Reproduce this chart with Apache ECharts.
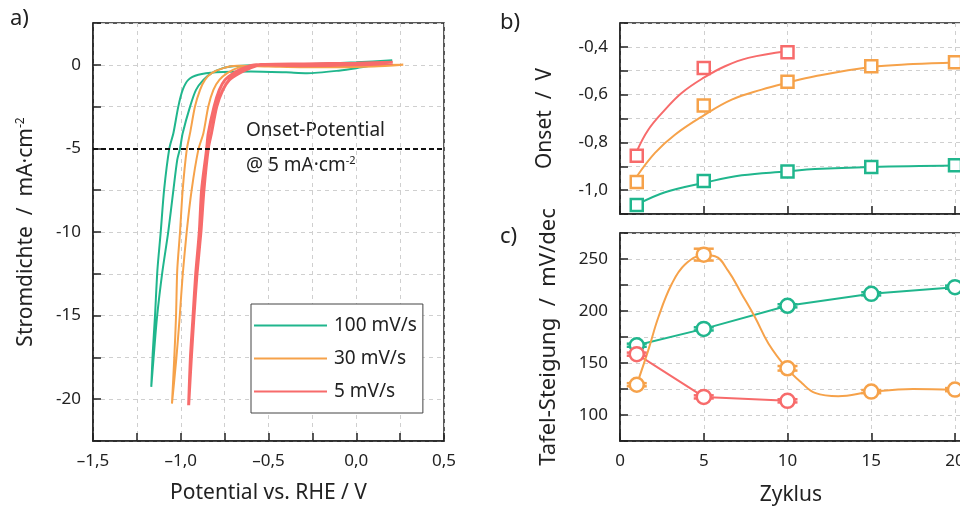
<!DOCTYPE html>
<html><head><meta charset="utf-8">
<script src="https://cdn.jsdelivr.net/npm/echarts@6/dist/echarts.min.js"></script>
<style>html,body{margin:0;padding:0;background:#fff}#c{width:960px;height:509px}</style>
</head><body><div id="c"></div>
<script>
// ---- Panel a: LSV loops [potential V, current mA/cm2] ----
const lsv100 = [[0.205,0.27],[0.0,0.15],[-0.3,0.03],[-0.6,-0.02],[-0.7,-0.08],[-0.76,-0.2],[-0.824,-0.5],[-0.871,-0.9],[-0.913,-1.5],[-0.947,-2.5],[-0.989,-4.09],[-1.004,-5.0],[-1.02,-5.69],[-1.042,-7.49],[-1.071,-9.98],[-1.105,-12.4],[-1.135,-15.07],[-1.155,-17.56],[-1.168,-19.26],
  [-1.16,-17.3],[-1.147,-15.07],[-1.133,-12.28],[-1.114,-9.98],[-1.095,-7.49],[-1.065,-5.0],[-1.042,-4.09],[-1.014,-2.5],[-0.989,-1.5],[-0.957,-0.9],[-0.9,-0.6],[-0.8,-0.45],[-0.6,-0.4],[-0.4,-0.45],[-0.28,-0.5],[-0.1,-0.35],[0.0,-0.2],[0.13,0.05],[0.205,0.2]];
const lsv30 = [[0.268,0.0],[0.0,-0.02],[-0.4,-0.04],[-0.605,-0.05],[-0.68,-0.2],[-0.735,-0.5],[-0.78,-0.9],[-0.814,-1.5],[-0.843,-2.5],[-0.871,-4.09],[-0.9,-5.09],[-0.938,-7.49],[-0.966,-9.98],[-0.989,-12.57],[-1.006,-15.07],[-1.025,-17.56],[-1.05,-20.26],
  [-1.037,-17.56],[-1.027,-15.07],[-1.02,-12.28],[-1.004,-9.98],[-0.989,-7.49],[-0.966,-5.09],[-0.947,-4.09],[-0.919,-2.5],[-0.89,-1.5],[-0.862,-0.9],[-0.824,-0.5],[-0.757,-0.2],[-0.68,-0.06],[-0.5,-0.1],[-0.2,-0.15],[0.1,-0.1],[0.268,0.0]];
const lsv5 = [[0.208,0.15],[0.0,0.1],[-0.3,0.05],[-0.548,0.0],[-0.605,-0.2],[-0.666,-0.5],[-0.723,-0.9],[-0.76,-1.5],[-0.795,-2.5],[-0.825,-4.09],[-0.843,-5.0],[-0.868,-7.49],[-0.885,-9.98],[-0.908,-12.57],[-0.925,-15.07],[-0.94,-17.56],[-0.955,-20.36],
  [-0.945,-17.56],[-0.93,-15.07],[-0.915,-12.57],[-0.894,-9.98],[-0.881,-7.49],[-0.852,-5.0],[-0.843,-4.09],[-0.81,-2.5],[-0.78,-1.5],[-0.748,-0.9],[-0.70,-0.5],[-0.643,-0.2],[-0.57,0.0],[-0.3,-0.05],[0.0,0.0],[0.208,0.1]];
const onsetLevel = -5;

// ---- Panel b: onset potential vs cycle ----
const cycles = [1, 5, 10, 15, 20];
const onsetGreen  = [-1.062, -0.962, -0.922, -0.903, -0.896];
const onsetOrange = [-0.966, -0.646, -0.546, -0.481, -0.464];
const onsetRed    = [-0.856, -0.488, -0.423];
const fitGreenX  = [1, 2.69, 4.98, 7.27, 9.95, 11.64, 15, 20];
const fitGreenY  = [-1.061, -1.009, -0.970, -0.938, -0.922, -0.912, -0.903, -0.897];
const fitOrangeX = [1, 2.09, 3.28, 4.98, 6.67, 8.46, 9.95, 11.64, 15, 17.5, 20];
const fitOrangeY = [-0.943, -0.844, -0.768, -0.688, -0.621, -0.579, -0.551, -0.523, -0.484, -0.472, -0.465];
const fitRedX    = [1, 1.69, 2.69, 3.68, 4.98, 6.27, 7.66, 9.95];
const fitRedY    = [-0.838, -0.747, -0.663, -0.593, -0.530, -0.481, -0.446, -0.418];

// ---- Panel c: Tafel slope vs cycle ----
const tafelGreen  = [167.1, 182.8, 205.0, 216.5, 222.9];
const tafelGreenErr = [1.5, 1.5, 1.5, 1.5, 1.5];
const tafelOrange = [129.1, 254.2, 144.9, 122.5, 124.4];
const tafelOrangeErr = [1.5, 5.7, 2.2, 1.5, 1.5];
const tafelRed    = [158.5, 117.4, 113.6];
const tafelRedErr = [1.5, 1.5, 1.5];
const splineOrangeX = [1, 1.69, 2.29, 3.08, 3.88, 4.98, 5.67, 6.47, 7.27, 8.06, 8.86, 9.95, 10.85, 11.64, 13.03, 14.99, 17.5, 20];
const splineOrangeY = [129.2, 162.4, 194, 225.7, 244.7, 253.5, 252.6, 238.3, 216.2, 194, 168.8, 145, 130.8, 121.3, 118.1, 122.3, 125.1, 124.2];

const C_G = '#20b68d', C_O = '#f6a24a', C_R = '#f76b6b';
const FONT = 'Noto Sans';
const zip = (xs, ys) => ys.map((y, i) => [xs[i], y]);
const zip3 = (xs, ys, es) => ys.map((y, i) => [xs[i], y, es[i]]);
const comma = (v, d) => (v < -1e-9 ? '-' : '') + Math.abs(v).toFixed(d).replace('.', ',');
const isMult = (v, m) => Math.abs(v / m - Math.round(v / m)) < 1e-6;

const axisCommon = {
  axisLine: { show: true, onZero: false, lineStyle: { color: '#222', width: 1.5 } },
  axisTick: { show: true, inside: true, length: 8, lineStyle: { color: '#222', width: 1.5 } },
  splitLine: { show: true, lineStyle: { color: '#cfcfcf', type: [4, 4], width: 1 } },
  axisLabel: { color: '#222', fontFamily: FONT, fontSize: 17, margin: 12 },
  nameTextStyle: { color: '#222', fontFamily: FONT, fontSize: 21 }
};
function ax(extra) {
  const o = JSON.parse(JSON.stringify(axisCommon));
  for (const k in extra) {
    if (typeof extra[k] === 'object' && !Array.isArray(extra[k]) && o[k]) Object.assign(o[k], extra[k]);
    else o[k] = extra[k];
  }
  return o;
}

function errRender(color) {
  return function (params, api) {
    const x = api.value(0), y = api.value(1), e = api.value(2);
    const lo = api.coord([x, y - e]), hi = api.coord([x, y + e]);
    const w = 10;
    const st = { stroke: color, lineWidth: 2.5 };
    return { type: 'group', children: [
      { type: 'line', shape: { x1: lo[0], y1: lo[1], x2: hi[0], y2: hi[1] }, style: st },
      { type: 'line', shape: { x1: lo[0] - w, y1: lo[1], x2: lo[0] + w, y2: lo[1] }, style: st },
      { type: 'line', shape: { x1: hi[0] - w, y1: hi[1], x2: hi[0] + w, y2: hi[1] }, style: st }
    ]};
  };
}

const chart = echarts.init(document.getElementById('c'), null, { renderer: 'canvas' });
const gridStyle = { show: true, borderColor: '#222', borderWidth: 1.5, backgroundColor: 'transparent', containLabel: false, outerBoundsMode: 'none' };
const markerLine = (name, data, color, xi, sym, size) => ({
  name, type: 'line', xAxisIndex: xi, yAxisIndex: xi, data, symbol: sym, symbolSize: size,
  lineStyle: { width: 0, opacity: 0 }, itemStyle: { color: '#fff', borderColor: color, borderWidth: 2.5 }, z: 5
});

chart.setOption({
  animation: false,
  textStyle: { fontFamily: FONT },
  grid: [
    Object.assign({ left: 93, top: 23, width: 351, height: 418 }, gridStyle),
    Object.assign({ left: 620, top: 23, width: 351.75, height: 191 }, gridStyle),
    Object.assign({ left: 620, top: 233, width: 351.75, height: 208 }, gridStyle)
  ],
  xAxis: [
    ax({ gridIndex: 0, type: 'value', min: -1.5, max: 0.5, interval: 0.25,
      name: 'Potential vs. RHE / V', nameLocation: 'middle', nameGap: 42,
      axisLabel: { formatter: v => isMult(v, 0.5) ? (v < -1e-9 ? '–' : '') + Math.abs(v).toFixed(1).replace('.', ',') : '' } }),
    ax({ gridIndex: 1, type: 'value', min: 0, max: 21, interval: 5, axisLabel: { show: false } }),
    ax({ gridIndex: 2, type: 'value', min: 0, max: 21, interval: 5,
      name: 'Zyklus', nameLocation: 'middle', nameGap: 44, nameTextStyle: { padding: [0, 0, 0, -10] },
      axisLabel: { formatter: v => isMult(v, 5) ? String(v) : '' } })
  ],
  yAxis: [
    ax({ gridIndex: 0, type: 'value', min: -22.5, max: 2.5, interval: 2.5,
      name: '{a|Stromdichte  /  mA·cm}{s|-2}', nameLocation: 'middle', nameGap: 56,
      nameTextStyle: { rich: { a: { fontSize: 21, fontFamily: FONT, color: '#222' }, s: { fontSize: 12, fontFamily: FONT, color: '#222', verticalAlign: 'top', padding: [0, 0, 10, 0] } } },
      axisLabel: { formatter: v => isMult(v, 5) ? String(Math.round(v)) : '' } }),
    ax({ gridIndex: 1, type: 'value', min: -1.1, max: -0.3, interval: 0.1,
      name: 'Onset  /  V', nameLocation: 'middle', nameGap: 64,
      axisLabel: { formatter: v => isMult(v, 0.2) ? comma(v, 1) : '' } }),
    ax({ gridIndex: 2, type: 'value', min: 75, max: 275, interval: 25,
      name: 'Tafel-Steigung  /  mV/dec', nameLocation: 'middle', nameGap: 60,
      nameTextStyle: { fontSize: 22 },
      axisLabel: { formatter: v => isMult(v, 50) ? String(v) : '' } })
  ],
  legend: {
    data: ['100 mV/s', '30 mV/s', '5 mV/s'], orient: 'vertical', left: 251, top: 304,
    padding: [12, 6, 12, 2], itemWidth: 73, itemHeight: 18, itemGap: 14,
    itemStyle: { opacity: 0 },
    backgroundColor: '#fff', borderColor: '#444', borderWidth: 1, borderRadius: 0,
    textStyle: { fontFamily: FONT, fontSize: 19, color: '#222', padding: [0, 0, 0, 2] }
  },
  graphic: [
    { type: 'text', left: 10, top: 8, style: { text: 'a)', font: '22px "' + FONT + '"', fill: '#222' } },
    { type: 'text', left: 500, top: 12, style: { text: 'b)', font: '22px "' + FONT + '"', fill: '#222' } },
    { type: 'text', left: 500, top: 226, style: { text: 'c)', font: '22px "' + FONT + '"', fill: '#222' } },
    { type: 'text', left: 246, top: 121, style: { text: 'Onset-Potential', font: '19px "' + FONT + '"', fill: '#222' } },
    { type: 'text', left: 246, top: 155, style: { text: '{a|@ 5 mA·cm}{s|-2}', rich: { a: { font: '19px "' + FONT + '"', fill: '#222' }, s: { font: '11px "' + FONT + '"', fill: '#222', verticalAlign: 'top', padding: [0, 0, 10, 0] } } } }
  ],
  series: [
    { name: '100 mV/s', type: 'line', xAxisIndex: 0, yAxisIndex: 0, data: lsv100, showSymbol: false, symbol: 'none', smooth: 0.25,
      lineStyle: { color: C_G, width: 2 }, itemStyle: { color: C_G }, z: 3,
      markLine: { silent: true, symbol: 'none', label: { show: false },
        lineStyle: { color: '#111', type: [5, 3], width: 2 }, data: [{ yAxis: onsetLevel }] } },
    { name: '30 mV/s', type: 'line', xAxisIndex: 0, yAxisIndex: 0, data: lsv30, showSymbol: false, symbol: 'none', smooth: 0.25,
      lineStyle: { color: C_O, width: 2 }, itemStyle: { color: C_O }, z: 3 },
    { name: '5 mV/s', type: 'line', xAxisIndex: 0, yAxisIndex: 0, data: lsv5, showSymbol: false, symbol: 'none', smooth: 0.25,
      lineStyle: { color: C_R, width: 3 }, itemStyle: { color: C_R }, z: 3 },

    // panel b fits
    { name: 'fitG', type: 'line', xAxisIndex: 1, yAxisIndex: 1, data: zip(fitGreenX, fitGreenY), symbol: 'none', smooth: 0.4, lineStyle: { color: C_G, width: 2 } },
    { name: 'fitO', type: 'line', xAxisIndex: 1, yAxisIndex: 1, data: zip(fitOrangeX, fitOrangeY), symbol: 'none', smooth: 0.4, lineStyle: { color: C_O, width: 2 } },
    { name: 'fitR', type: 'line', xAxisIndex: 1, yAxisIndex: 1, data: zip(fitRedX, fitRedY), symbol: 'none', smooth: 0.4, lineStyle: { color: C_R, width: 2 } },
    markerLine('onG', zip(cycles, onsetGreen), C_G, 1, 'rect', 12),
    markerLine('onO', zip(cycles, onsetOrange), C_O, 1, 'rect', 12),
    markerLine('onR', zip(cycles, onsetRed), C_R, 1, 'rect', 12),

    // panel c
    { name: 'tG', type: 'line', xAxisIndex: 2, yAxisIndex: 2, data: zip(cycles, tafelGreen), symbol: 'none', lineStyle: { color: C_G, width: 2 } },
    { name: 'tR', type: 'line', xAxisIndex: 2, yAxisIndex: 2, data: zip(cycles, tafelRed), symbol: 'none', lineStyle: { color: C_R, width: 2 } },
    { name: 'tO', type: 'line', xAxisIndex: 2, yAxisIndex: 2, data: zip(splineOrangeX, splineOrangeY), symbol: 'none', smooth: 0.4, lineStyle: { color: C_O, width: 2 } },
    { name: 'eG', type: 'custom', xAxisIndex: 2, yAxisIndex: 2, data: zip3(cycles, tafelGreen, tafelGreenErr), renderItem: errRender(C_G), encode: { x: 0, y: 1 }, z: 4 },
    { name: 'eO', type: 'custom', xAxisIndex: 2, yAxisIndex: 2, data: zip3(cycles, tafelOrange, tafelOrangeErr), renderItem: errRender(C_O), encode: { x: 0, y: 1 }, z: 4 },
    { name: 'eR', type: 'custom', xAxisIndex: 2, yAxisIndex: 2, data: zip3(cycles, tafelRed, tafelRedErr), renderItem: errRender(C_R), encode: { x: 0, y: 1 }, z: 4 },
    markerLine('mG', zip(cycles, tafelGreen), C_G, 2, 'circle', 14),
    markerLine('mO', zip(cycles, tafelOrange), C_O, 2, 'circle', 14),
    markerLine('mR', zip(cycles, tafelRed), C_R, 2, 'circle', 14)
  ]
});
</script>
</body></html>
